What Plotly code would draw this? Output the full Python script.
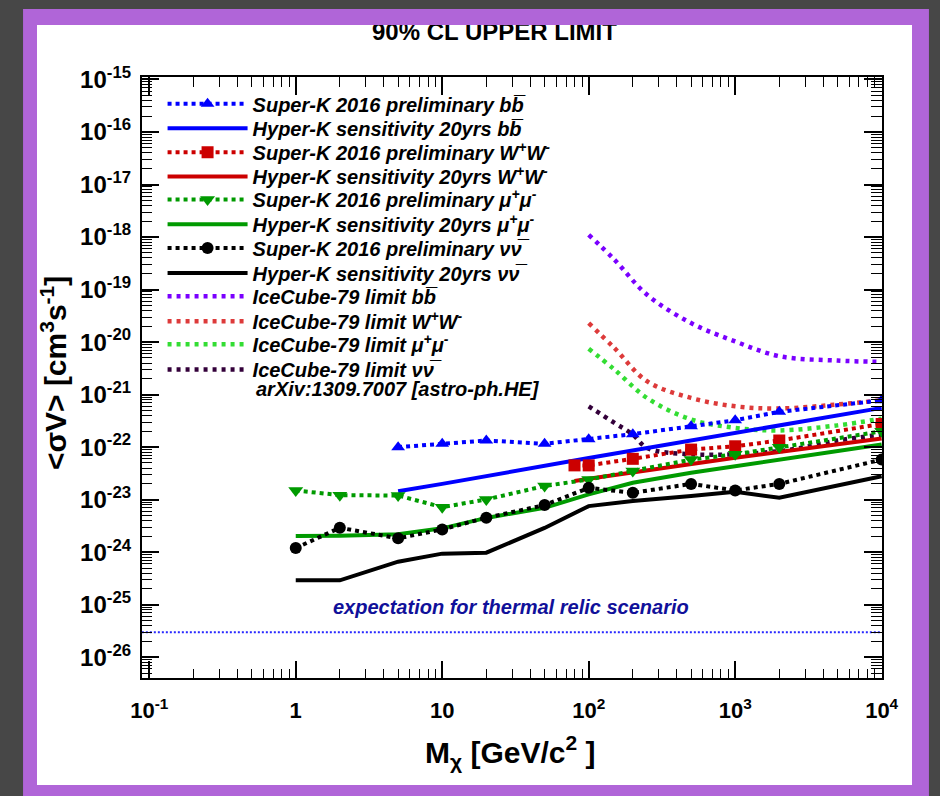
import plotly.graph_objects as go

# ---------------- data ----------------
# Super-K 2016 preliminary (90% CL upper limits)
sk_bb_m = [5, 10, 20, 50, 100, 200, 500, 1000, 2000, 10000]
sk_bb_v = [1.0e-22, 1.16e-22, 1.34e-22, 1.16e-22, 1.42e-22, 1.77e-22, 2.5e-22, 3.26e-22, 4.7e-22, 7.8e-22]
sk_ww_m = [80, 100, 200, 500, 1000, 2000, 10000]
sk_ww_v = [4.5e-23, 4.5e-23, 6.0e-23, 9.0e-23, 1.04e-22, 1.34e-22, 2.77e-22]
sk_mm_m = [1, 2, 5, 10, 20, 50, 100, 200, 500, 1000, 2000, 10000]
sk_mm_v = [1.5e-23, 1.22e-23, 1.2e-23, 7.2e-24, 1.01e-23, 1.82e-23, 2.43e-23, 3.5e-23, 5.8e-23, 7.3e-23, 1.0e-22, 2.0e-22]
sk_nn_m = [1, 2, 5, 10, 20, 50, 100, 200, 500, 1000, 2000, 10000]
sk_nn_v = [1.2e-24, 2.92e-24, 1.84e-24, 2.72e-24, 4.53e-24, 7.9e-24, 1.68e-23, 1.35e-23, 2.0e-23, 1.5e-23, 2.0e-23, 5.8e-23]

# Hyper-K sensitivity 20 yrs
hk_bb_m = [5, 10, 100, 1000, 10000]
hk_bb_v = [1.45e-23, 2.0e-23, 6.2e-23, 1.9e-22, 5.6e-22]
hk_ww_m = [80, 100, 1000, 10000]
hk_ww_v = [2.26e-23, 2.5e-23, 6.3e-23, 1.46e-22]
hk_mm_m = [1, 2, 5, 10, 20, 50, 100, 200, 500, 1000, 2000, 10000]
hk_mm_v = [2.03e-24, 2.05e-24, 2.19e-24, 2.85e-24, 4.5e-24, 7.0e-24, 1.26e-23, 2.1e-23, 3.25e-23, 4.36e-23, 5.8e-23, 1.12e-22]
hk_nn_m = [1, 2, 5, 10, 20, 50, 100, 200, 500, 1000, 2000, 10000]
hk_nn_v = [2.92e-25, 2.92e-25, 6.6e-25, 9.4e-25, 9.8e-25, 2.9e-24, 7.55e-24, 9.4e-24, 1.17e-23, 1.41e-23, 1.09e-23, 2.8e-23]

# IceCube-79 limits (arXiv:1309.7007)
ic_m = [100, 150, 250, 500, 1000, 2000, 5000, 10000]
ic_bb_v = [1.1e-18, 3.7e-19, 8.0e-20, 2.3e-20, 1.03e-20, 5.4e-21, 4.45e-21, 4.2e-21]
ic_ww_v = [2.3e-20, 7.7e-21, 1.8e-21, 8.65e-22, 6.0e-22, 5.45e-22, 6.5e-22, 7.8e-22]
ic_mm_v = [7.5e-21, 3.0e-21, 8.65e-22, 3.37e-22, 2.33e-22, 2.08e-22, 2.6e-22, 3.5e-22]
ic_nn_m = [100, 150, 200, 250, 500, 2000, 5000, 10000]
ic_nn_v = [6.0e-22, 2.9e-22, 1.74e-22, 9.7e-23, 7.3e-23, 8.4e-23, 1.34e-22, 1.74e-22]

# thermal relic expectation
relic_m = [0.089, 10000]
relic_v = [3e-26, 3e-26]

x_tickvals = [0.1, 1, 10, 100, 1000, 10000]
x_ticktext = ["10<sup>-1</sup>", "1", "10", "10<sup>2</sup>", "10<sup>3</sup>", "10<sup>4</sup>"]
y_exps = list(range(-26, -14))
y_tickvals = [10.0 ** e for e in y_exps]
y_ticktext = ["10<sup>%d</sup>" % e for e in y_exps]

BB = "b" + "b\u0305"
NN = "\u03bd" + "\u03bd\u0305"
WW = "W<sup>+</sup>W<sup>-</sup>"
MM = "\u03bc<sup>+</sup>\u03bc<sup>-</sup>"

# ---------------- geometry helpers (pixels -> paper) ----------------
W, H = 940, 796
PL, PR, PT, PB = 37, 915, 23, 785          # white panel (paper area)
AX_L, AX_R, AX_T, AX_B = 142, 885, 75, 678  # axes frame


def px(x):
    return (x - PL) / (PR - PL)


def py(y):
    return (PB - y) / (PB - PT)


FONT = "Liberation Sans"
BLUE, RED, GREEN, BLACK = "#0000ff", "#cc0000", "#009a00", "#000000"
IC_BB, IC_WW, IC_MM, IC_NN = "#7a00ff", "#dd3a3a", "#33dd33", "#33003a"
DOT = "4px,4px"
ICDOT = "4px,5px"

fig = go.Figure()

# thermal relic line
fig.add_trace(go.Scatter(x=relic_m, y=relic_v, mode="lines", showlegend=False,
                         line=dict(color="#2828ff", width=2, dash="2px,2px")))


def add(xs, ys, name, color, legend, dash=None, width=4, marker=None, shape="linear"):
    kw = dict(x=xs, y=ys, name=name, legend=legend, showlegend=True,
              line=dict(color=color, width=width, dash=dash, shape=shape))
    if marker:
        kw["mode"] = "lines+markers"
        kw["marker"] = dict(symbol=marker[0], size=marker[1], color=color, line=dict(width=0))
    else:
        kw["mode"] = "lines"
    fig.add_trace(go.Scatter(**kw))


# IceCube curves (drawn first, below)
add(ic_m, ic_bb_v, "IceCube-79 limit " + BB, IC_BB, "legend9", dash=ICDOT, width=4.5, shape="spline")
add(ic_m, ic_ww_v, "IceCube-79 limit " + WW, IC_WW, "legend10", dash=ICDOT, width=4.5, shape="spline")
add(ic_m, ic_mm_v, "IceCube-79 limit " + MM, IC_MM, "legend11", dash=ICDOT, width=4.5, shape="spline")
add(ic_nn_m, ic_nn_v, "IceCube-79 limit " + NN, IC_NN, "legend12", dash=ICDOT, width=4.5, shape="spline")

# Hyper-K sensitivities
add(hk_bb_m, hk_bb_v, "Hyper-K sensitivity 20yrs " + BB, BLUE, "legend2")
add(hk_ww_m, hk_ww_v, "Hyper-K sensitivity 20yrs " + WW, RED, "legend4")
add(hk_mm_m, hk_mm_v, "Hyper-K sensitivity 20yrs " + MM, GREEN, "legend6")
add(hk_nn_m, hk_nn_v, "Hyper-K sensitivity 20yrs " + NN, BLACK, "legend8")

# Super-K limits
add(sk_bb_m, sk_bb_v, "Super-K 2016 preliminary " + BB, BLUE, "legend", dash=DOT, marker=("triangle-up", 12))
add(sk_ww_m, sk_ww_v, "Super-K 2016 preliminary " + WW, RED, "legend3", dash=DOT, marker=("square", 12))
add(sk_mm_m, sk_mm_v, "Super-K 2016 preliminary " + MM, GREEN, "legend5", dash=DOT, marker=("triangle-down", 13))
add(sk_nn_m, sk_nn_v, "Super-K 2016 preliminary " + NN, BLACK, "legend7", dash=DOT, marker=("circle", 12))

# title (clipped by the panel top, like the reference)
TITLE_SUB_BOTTOM = AX_T + 2
TITLE_CENTER = 32
TITLE_X = 496
fig.add_trace(go.Scatter(x=[px(TITLE_X)], y=[(TITLE_SUB_BOTTOM - TITLE_CENTER) / (TITLE_SUB_BOTTOM - PT)],
                         mode="text", text=["<b>90% CL UPPER LIMIT</b>"],
                         textfont=dict(family=FONT, size=24, color="black"),
                         textposition="middle center", cliponaxis=True, showlegend=False,
                         xaxis="x2", yaxis="y2", hoverinfo="skip"))

legend_y = [102, 126.5, 150.7, 175, 198, 222.7, 246.7, 271.7, 295, 320, 343, 368.3]
legend_keys = ["legend"] + ["legend%d" % i for i in range(2, 13)]
leg_layout = {}
for k, yy in zip(legend_keys, legend_y):
    leg_layout[k] = dict(x=px(163), y=py(yy), xanchor="left", yanchor="middle",
                         bgcolor="rgba(0,0,0,0)", borderwidth=0, itemwidth=80,
                         font=dict(family=FONT, size=20, color="black", weight="bold", style="italic"))

axis_common = dict(type="log", showline=True, linecolor="black", linewidth=1.5, mirror="allticks",
                   ticks="inside", tickcolor="black", tickwidth=1.5, showgrid=False, zeroline=False)

minor_x = [m * 10.0 ** e for e in range(-1, 4) for m in range(2, 10)]
minor_y = [m * 10.0 ** e for e in range(-27, -15) for m in range(2, 10)]

fig.update_layout(
    width=W, height=H,
    margin=dict(l=PL, r=W - PR, t=PT, b=H - PB, pad=0),
    paper_bgcolor="#474747", plot_bgcolor="rgba(0,0,0,0)",
    xaxis=dict(axis_common, domain=[px(AX_L), px(AX_R)], range=[-1.052, 4.003],
               tickvals=x_tickvals, ticktext=x_ticktext, ticklen=18, ticklabelstandoff=12,
               tickfont=dict(family=FONT, size=22, color="black", weight="bold"),
               minor=dict(ticks="inside", ticklen=10, tickwidth=1.2, tickcolor="black",
                          tickvals=minor_x, showgrid=False)),
    yaxis=dict(axis_common, domain=[py(AX_B), py(AX_T)], range=[-26.4, -14.95],
               tickvals=y_tickvals, ticktext=y_ticktext, ticklen=18, ticklabelstandoff=4,
               tickfont=dict(family=FONT, size=24, color="black", weight="bold"),
               minor=dict(ticks="inside", ticklen=11, tickwidth=1.2, tickcolor="black",
                          tickvals=minor_y, showgrid=False)),
    xaxis2=dict(domain=[0, 1], range=[0, 1], visible=False, anchor="y2", fixedrange=True),
    yaxis2=dict(domain=[py(TITLE_SUB_BOTTOM), 1], range=[0, 1], visible=False, anchor="x2", fixedrange=True),
    shapes=[
        dict(type="rect", xref="paper", yref="paper", x0=px(23), x1=px(932), y0=py(800), y1=py(7),
             fillcolor="#b065d8", line=dict(width=0), layer="below"),
        dict(type="rect", xref="paper", yref="paper", x0=0, x1=1, y0=0, y1=1,
             fillcolor="white", line=dict(width=0), layer="below"),
    ],
    annotations=[
        dict(text="<b>&lt;\u03c3V&gt; [cm<sup>3</sup>s<sup>-1</sup>]</b>", xref="paper", yref="paper",
             x=px(54), y=py(372), textangle=-90, showarrow=False, xanchor="center", yanchor="middle",
             font=dict(family=FONT, size=30, color="black")),
        dict(text="<b>M<sub>\u03c7</sub> [GeV/c<sup>2</sup> ]</b>", xref="paper", yref="paper",
             x=px(512), y=py(752), showarrow=False, xanchor="center", yanchor="middle",
             font=dict(family=FONT, size=30, color="black")),
        dict(text="<b><i>expectation for thermal relic scenario</i></b>", xref="paper", yref="paper",
             x=px(513), y=py(607), showarrow=False, xanchor="center", yanchor="middle",
             font=dict(family=FONT, size=20, color="#10109a")),
        dict(text="<b><i>arXiv:1309.7007 [astro-ph.HE]</i></b>", xref="paper", yref="paper",
             x=px(255), y=py(388), showarrow=False, xanchor="left", yanchor="middle",
             font=dict(family=FONT, size=20, color="black")),
    ],
    **leg_layout,
)

fig.write_html("out.html")
